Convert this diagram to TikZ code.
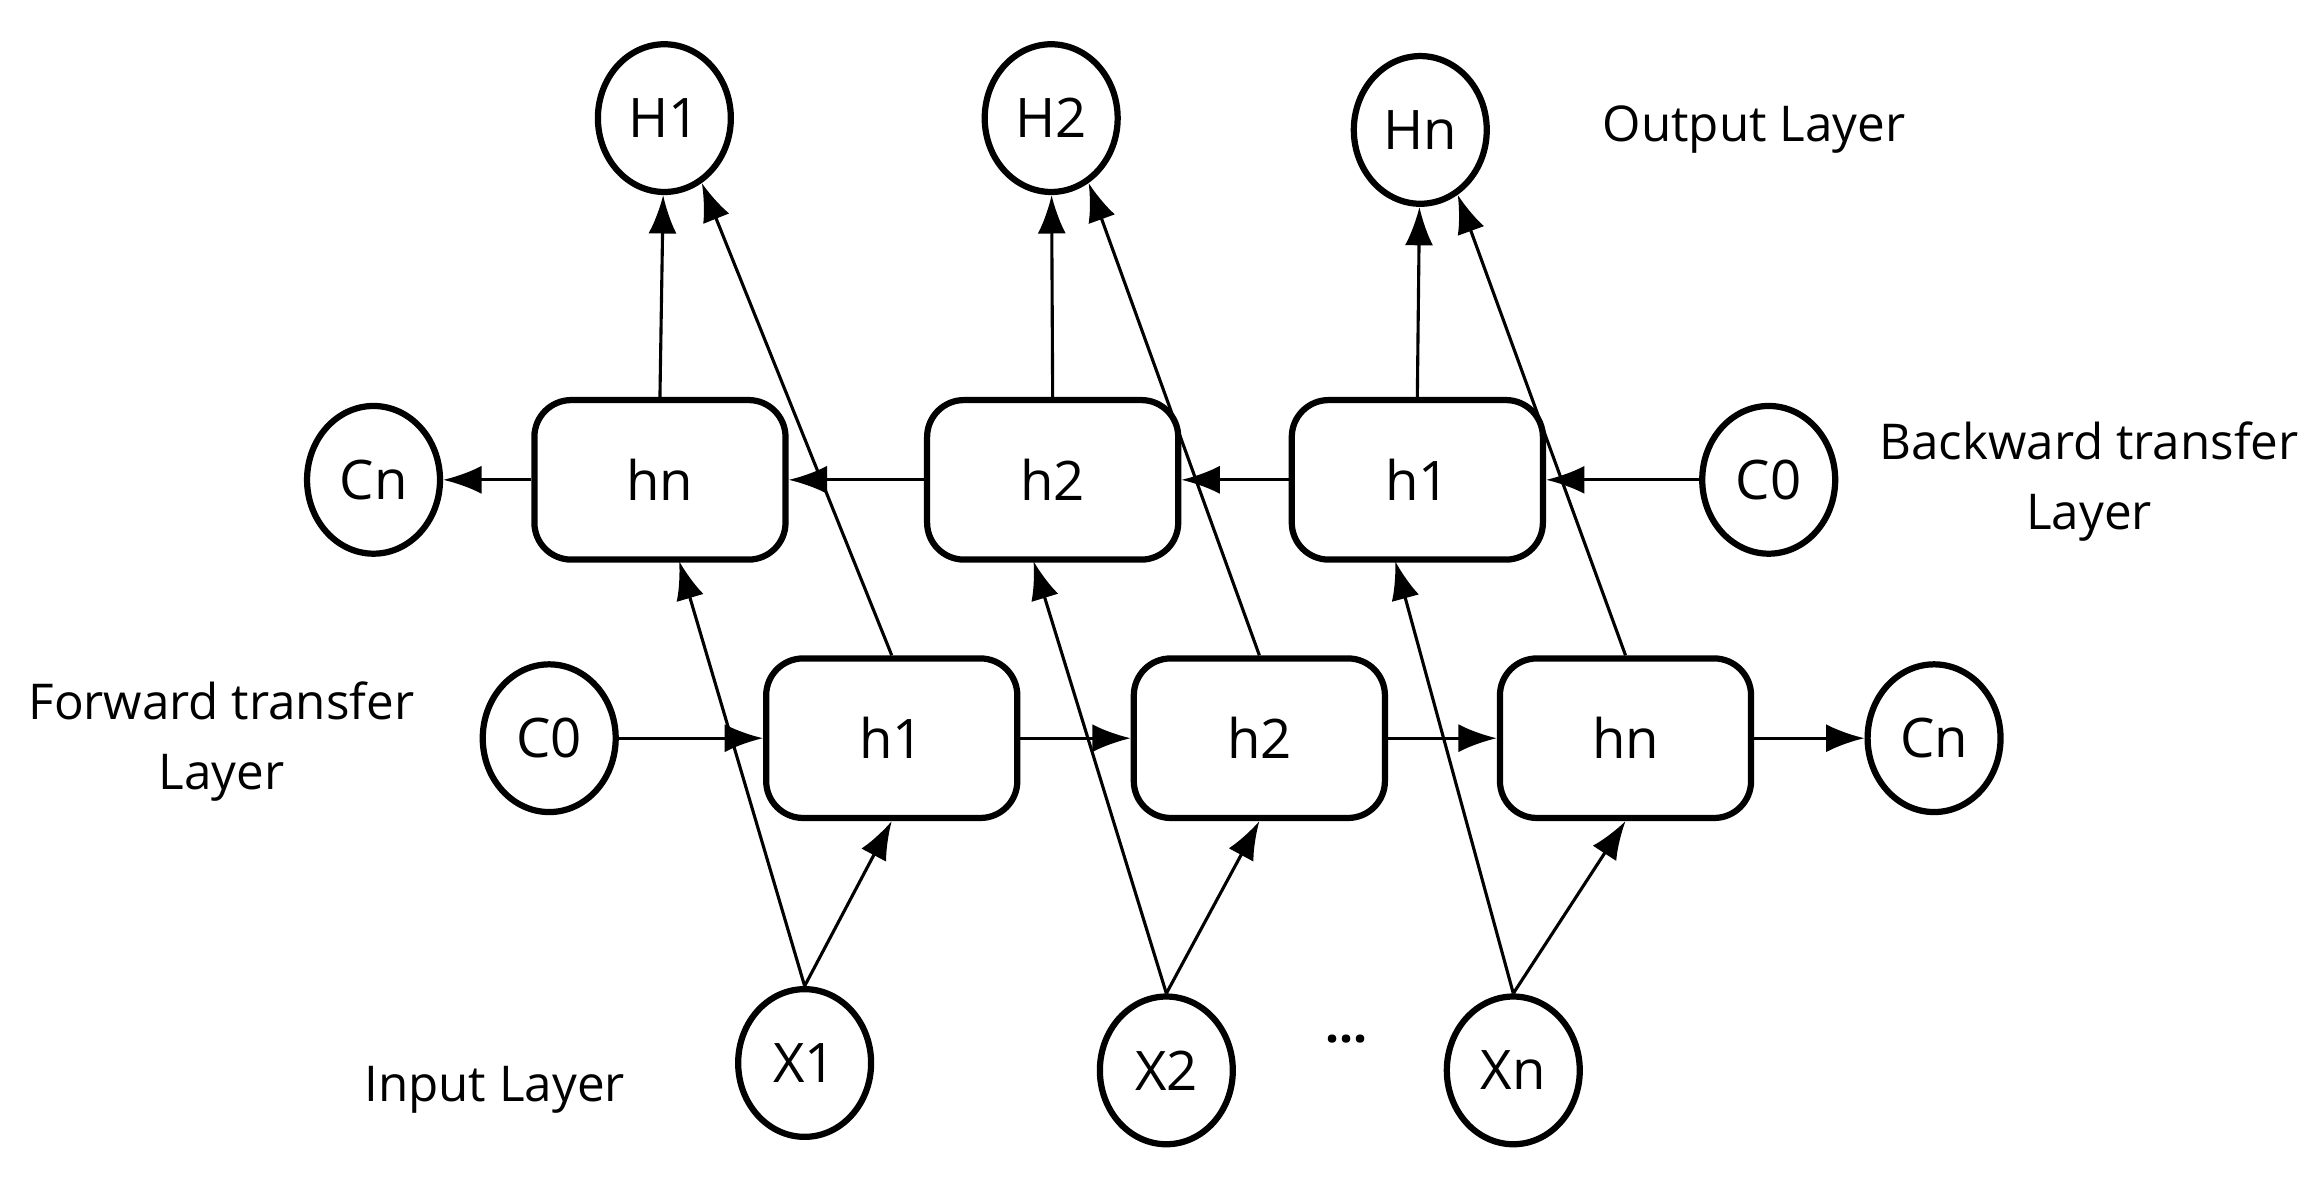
\documentclass[tikz,border=0pt]{standalone}
\usepackage{fontspec}
\setmainfont{Open Sans}
\usetikzlibrary{arrows.meta,shapes.geometric}
\begin{document}
\begin{tikzpicture}[x=0.01cm,y=-0.01cm,
  circ/.style={ellipse,draw,line width=1.2pt,minimum width=0.9cm,minimum height=1.0cm,inner sep=0pt,font=\fontsize{10.5}{13}\selectfont},
  box/.style={rounded corners=0.25cm,draw,line width=1.2pt,minimum width=1.7cm,minimum height=1.08cm,font=\fontsize{10.5}{13}\selectfont},
  lab/.style={font=\fontsize{9.5}{13.5}\selectfont,align=center},
  arr/.style={-{Latex[length=0.26cm,width=0.19cm]},line width=0.6pt}]
\useasboundingbox (0,0) rectangle (1568,806);
\node[circ] (H1) at (450,80) {H1};
\node[circ] (H2) at (712,80) {H2};
\node[circ] (Hn) at (962,88) {Hn};
\node[lab] (ol) at (1188,88) {Output Layer};
\node[circ] (Cnb) at (253,325) {Cn};
\node[box] (hnb) at (447,325) {hn};
\node[box] (h2b) at (713,325) {h2};
\node[box] (h1b) at (960,325) {h1};
\node[circ] (C0b) at (1198,325) {C0};
\node[lab] (bl) at (1415,326) {Backward transfer\\Layer};
\node[lab] (fl) at (150,502) {Forward transfer\\Layer};
\node[circ] (C0f) at (372,500) {C0};
\node[box] (h1f) at (604,500) {h1};
\node[box] (h2f) at (853,500) {h2};
\node[box] (hnf) at (1101,500) {hn};
\node[circ] (Cnf) at (1310,500) {Cn};
\node[circ] (X1) at (545,720) {X1};
\node[circ] (X2) at (790,725) {X2};
\node[circ] (Xn) at (1025,725) {Xn};
\node[lab] (dots) at (912,708) {\textbf{···}};
\node[lab] (il) at (335,738) {Input Layer};
% outputs
\draw[arr] (hnb.north) -- (H1);
\draw[arr] (h2b.north) -- (H2);
\draw[arr] (h1b.north) -- (Hn);
\draw[arr] (h1f.north) -- (H1.-60);
\draw[arr] (h2f.north) -- (H2.-60);
\draw[arr] (hnf.north) -- (Hn.-60);
% backward
\draw[arr] (C0b) -- (h1b);
\draw[arr] (h1b) -- (h2b);
\draw[arr] (h2b) -- (hnb);
\draw[arr] (hnb) -- (Cnb);
% forward
\draw[arr] (C0f) -- (h1f);
\draw[arr] (h1f) -- (h2f);
\draw[arr] (h2f) -- (hnf);
\draw[arr] (hnf) -- (Cnf);
% inputs
\coordinate (b1) at (460,380);
\coordinate (b2) at (700,380);
\coordinate (b3) at (945,380);
\draw[arr] (X1.north) -- (b1);
\draw[arr] (X1.north) -- (h1f.south);
\draw[arr] (X2.north) -- (b2);
\draw[arr] (X2.north) -- (h2f.south);
\draw[arr] (Xn.north) -- (b3);
\draw[arr] (Xn.north) -- (hnf.south);
\end{tikzpicture}
\end{document}
